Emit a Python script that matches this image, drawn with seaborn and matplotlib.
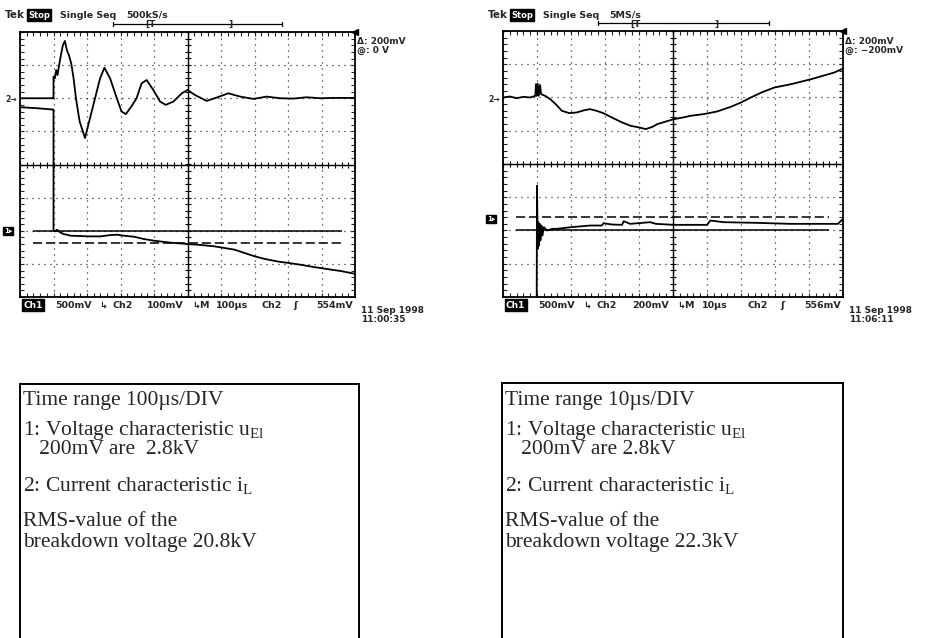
import numpy as np
import pandas as pd
import seaborn as sns
import matplotlib.pyplot as plt
from matplotlib.patches import Rectangle
from matplotlib.ticker import MultipleLocator

W, H = 925, 638

# ---- left scope (100us/div), traces in screen divisions: x 0..10, y -4..4
left_u_x = [0, 0.98, 1.0, 1.0, 1.04, 1.08, 1.12, 1.16, 1.22, 1.28, 1.34, 1.40, 1.46,
            1.53, 1.6, 1.67, 1.78, 1.94, 2.09, 2.24, 2.39, 2.52, 2.69, 2.89, 3.03,
            3.16, 3.33, 3.48, 3.63, 3.78, 3.98, 4.18, 4.35, 4.58, 4.83, 5.0, 5.22,
            5.57, 5.87, 6.22, 6.57, 6.97, 7.36, 7.76, 8.16, 8.56, 8.96, 9.35, 10.0]
left_u_y = [2.0, 2.0, 2.0, 2.65, 2.6, 2.85, 2.7, 2.95, 3.3, 3.6, 3.73, 3.45, 3.3,
            3.05, 2.6, 2.0, 1.3, 0.8, 1.4, 2.0, 2.6, 2.92, 2.6, 2.0, 1.6,
            1.52, 1.76, 2.0, 2.45, 2.55, 2.25, 1.9, 1.8, 1.9, 2.15, 2.25, 2.1,
            1.92, 2.02, 2.15, 2.05, 1.98, 2.05, 2.0, 1.99, 2.03, 2.0, 2.01, 2.01]
left_i_x = [0, 0.5, 0.97, 1.0, 1.0, 1.05, 1.1, 1.2, 1.3, 1.4, 1.5, 1.8, 2.1, 2.4,
            2.7, 2.9, 3.1, 3.4, 3.7, 4.0, 4.5, 5.0, 5.4, 5.8, 6.1, 6.4, 6.7, 7.0,
            7.3, 7.7, 8.0, 8.4, 8.8, 9.2, 9.6, 10.0]
left_i_y = [1.73, 1.7, 1.66, 1.66, -2.0, -2.02, -1.97, -2.05, -2.1, -2.12, -2.15,
            -2.16, -2.17, -2.17, -2.13, -2.12, -2.15, -2.18, -2.25, -2.3, -2.36,
            -2.4, -2.43, -2.47, -2.52, -2.57, -2.67, -2.77, -2.85, -2.93, -2.97,
            -3.03, -3.1, -3.16, -3.22, -3.3]
left_ref_solid = -2.0
left_ref_dash = -2.38
left_ch1_level = -2.0

# ---- right scope (10us/div)
right_u_x = [0, 0.2, 0.4, 0.6, 0.8, 0.95, 0.97, 0.99, 1.02, 1.05, 1.09, 1.12, 1.24,
             1.39, 1.55, 1.73, 1.95, 2.17, 2.4, 2.56, 2.75, 2.95, 3.2, 3.5, 3.75,
             4.0, 4.2, 4.4, 4.54, 4.8, 5.03, 5.3, 5.52, 5.9, 6.3, 6.7, 7.0, 7.29,
             7.6, 7.98, 8.47, 9.06, 9.4, 9.74, 10.0]
right_u_y = [2.0, 2.03, 1.98, 2.02, 2.0, 2.05, 2.4, 2.05, 2.42, 2.05, 2.38, 2.1, 2.05,
             1.95, 1.8, 1.6, 1.53, 1.55, 1.62, 1.65, 1.6, 1.53, 1.4, 1.25, 1.15,
             1.1, 1.05, 1.12, 1.2, 1.28, 1.35, 1.4, 1.45, 1.5, 1.58, 1.72, 1.85, 2.0,
             2.15, 2.3, 2.4, 2.55, 2.65, 2.75, 2.87]
right_i_x = [0, 0.99, 1.0, 1.02, 1.04, 1.06, 1.08, 1.1, 1.13, 1.16, 1.2, 1.3, 1.45,
             1.59, 2.0, 2.57, 2.9, 2.96, 3.2, 3.5, 3.55, 3.74, 4.33, 4.5, 5.02, 6.0,
             6.1, 6.49, 7.47, 8.45, 9.43, 9.85, 9.97, 10.0]
right_i_y = [-4.6, -4.6, -0.65, -2.55, -1.75, -2.45, -1.8, -2.3, -1.85, -2.15, -1.9,
             -2.0, -1.95, -1.95, -1.9, -1.85, -1.85, -1.78, -1.82, -1.83, -1.72,
             -1.8, -1.75, -1.8, -1.83, -1.83, -1.7, -1.75, -1.77, -1.8, -1.8, -1.8,
             -1.68, -1.7]
right_ref_solid = -2.0
right_ref_dash = -1.6
right_ch1_level = -1.65

ref_x = [0.38, 9.6]

left_text = dict(rate="500kS/s", ch1="500mV", ch2="100mV", time="100µs", trig="554mV",
                 delta="Δ: 200mV", at="@: 0 V", date="11 Sep 1998", clock="11:00:35")
right_text = dict(rate="5MS/s", ch1="500mV", ch2="200mV", time="10µs", trig="556mV",
                  delta="Δ: 200mV", at="@: −200mV", date="11 Sep 1998", clock="11:06:11")

left_notes = ["Time range 100µs/DIV", "1: Voltage characteristic u$_{\\rm El}$",
              "   200mV are  2.8kV", "2: Current characteristic i$_{\\rm L}$",
              "RMS-value of the", "breakdown voltage 20.8kV"]
right_notes = ["Time range 10µs/DIV", "1: Voltage characteristic u$_{\\rm El}$",
               "   200mV are 2.8kV", "2: Current characteristic i$_{\\rm L}$",
               "RMS-value of the", "breakdown voltage 22.3kV"]
note_rows = [400, 430, 450, 485, 522, 542]

sns.set_style("white")
plt.rcParams["font.family"] = ["DejaVu Sans"]
plt.rcParams["mathtext.fontset"] = "custom"
plt.rcParams["mathtext.rm"] = "Liberation Serif"
plt.rcParams["mathtext.it"] = "Liberation Serif:italic"

fig = plt.figure(figsize=(W / 100, H / 100), dpi=100)
fig.patch.set_facecolor("white")


def ftext(x, y, s, **kw):
    kw.setdefault("fontsize", 6.5)
    kw.setdefault("fontweight", "bold")
    kw.setdefault("va", "center")
    fig.text(x / W, 1 - y / H, s, **kw)


def scope(x0, x1, y0, y1, u_x, u_y, i_x, i_y, ref_solid, ref_dash, ch1_level, txt):
    ax = fig.add_axes([x0 / W, 1 - y1 / H, (x1 - x0) / W, (y1 - y0) / H])
    u = pd.DataFrame({"t": u_x, "v": u_y})
    cur = pd.DataFrame({"t": i_x, "v": i_y})
    sns.lineplot(data=u, x="t", y="v", ax=ax, color="black", lw=1.3,
                 sort=False, estimator=None, zorder=5)
    sns.lineplot(data=cur, x="t", y="v", ax=ax, color="black", lw=1.3,
                 sort=False, estimator=None, zorder=5)
    ax.hlines(ref_solid, *ref_x, color="black", lw=1.1, zorder=4)
    ax.hlines(ref_dash, *ref_x, color="black", lw=1.1, linestyles=(0, (6, 2.5)), zorder=4)

    ax.set_xlim(0, 10)
    ax.set_ylim(-4, 4)
    ax.set_xticks(range(11))
    ax.set_yticks(range(-4, 5))
    ax.xaxis.set_minor_locator(MultipleLocator(0.2))
    ax.yaxis.set_minor_locator(MultipleLocator(0.2))
    ax.tick_params(which="both", direction="in", length=3, width=0.8,
                   top=True, right=True, bottom=True, left=True,
                   labelbottom=False, labelleft=False)
    ax.grid(True, which="major", color="black", lw=0.9, linestyle=(0, (0.8, 4)))
    ax.set_xlabel("")
    ax.set_ylabel("")
    for s in ax.spines.values():
        s.set_linewidth(1.3)
        s.set_color("black")

    # centre crosshair with 0.2 div marks
    ax.axhline(0, color="black", lw=1.0, zorder=3)
    ax.axvline(5, color="black", lw=1.0, zorder=3)
    ax.plot(np.arange(0, 10.01, 0.2), np.zeros(51), "|", ms=5, mew=0.8, color="black", zorder=3)
    ax.plot(np.full(41, 5.0), np.arange(-4, 4.01, 0.2), "_", ms=5, mew=0.8, color="black", zorder=3)
    ax.plot(10, 4, marker="<", ms=4, color="black", clip_on=False)

    # header
    ftext(x0 - 15, 15, "Tek", fontsize=7.5)
    ftext(x0 + 8, 15, "Stop", color="white", fontsize=6,
          bbox=dict(boxstyle="square,pad=0.15", fc="black", ec="black"))
    ftext(x0 + 40, 15, "Single Seq", fontsize=6.8)
    ftext(x0 + 106, 15, txt["rate"], fontsize=6.8)

    # trigger position bar
    dpx = (x1 - x0) / 10.0
    ax.plot([2.78, 7.82], [4.24, 4.24], color="black", lw=0.9, clip_on=False)
    ax.plot([2.78, 2.78], [4.17, 4.31], color="black", lw=0.9, clip_on=False)
    ax.plot([7.82, 7.82], [4.17, 4.31], color="black", lw=0.9, clip_on=False)
    ftext(x0 + 3.75 * dpx, 24, "[T", fontsize=6.5)
    ftext(x0 + 6.22 * dpx, 24, "]", fontsize=6.5)

    # channel markers
    ftext(x0 - 15, 99, "2→", fontsize=5.5)
    ych1 = y0 + (4 - ch1_level) * (y1 - y0) / 8.0
    ftext(x0 - 16, ych1, "1▸", color="white", fontsize=5,
          bbox=dict(boxstyle="square,pad=0.12", fc="black", ec="black"))

    # readouts on the right
    ftext(x1 + 2, 41, txt["delta"])
    ftext(x1 + 2, 50, txt["at"])
    ftext(x1 + 6, 311, txt["date"])
    ftext(x1 + 6, 320, txt["clock"])

    # bottom status line
    yb = 305
    ftext(x0 + 3, yb, "Ch1", color="white",
          bbox=dict(boxstyle="square,pad=0.15", fc="black", ec="black"))
    ftext(x0 + 1.04 * dpx, yb, txt["ch1"], fontsize=6.8)
    ftext(x0 + 2.36 * dpx, yb, "↳", fontsize=6.8)
    ftext(x0 + 2.75 * dpx, yb, "Ch2", fontsize=6.8)
    ftext(x0 + 3.8 * dpx, yb, txt["ch2"], fontsize=6.8)
    ftext(x0 + 5.13 * dpx, yb, "↳M", fontsize=6.8)
    ftext(x0 + 5.85 * dpx, yb, txt["time"], fontsize=6.8)
    ftext(x0 + 7.2 * dpx, yb, "Ch2", fontsize=6.8)
    ftext(x0 + 8.15 * dpx, yb, "ʃ", fontsize=6.8)
    ftext(x0 + 8.85 * dpx, yb, txt["trig"], fontsize=6.8)
    return ax


scope(20, 355, 32, 297, left_u_x, left_u_y, left_i_x, left_i_y,
      left_ref_solid, left_ref_dash, left_ch1_level, left_text)
scope(503, 843, 31, 297, right_u_x, right_u_y, right_i_x, right_i_y,
      right_ref_solid, right_ref_dash, right_ch1_level, right_text)


def note_box(x0, x1, top, lines):
    fig.patches.append(Rectangle((x0 / W, -0.1), (x1 - x0) / W, 1 - top / H + 0.1,
                                 transform=fig.transFigure, fill=False,
                                 lw=1.4, ec="black"))
    for s, y in zip(lines, note_rows):
        fig.text((x0 + 3) / W, 1 - y / H, s, family="Liberation Serif",
                 fontsize=15.5, va="center", ha="left")


note_box(20, 359, 384, left_notes)
note_box(502, 843, 383, right_notes)

fig.savefig("out.png", dpi=100)
